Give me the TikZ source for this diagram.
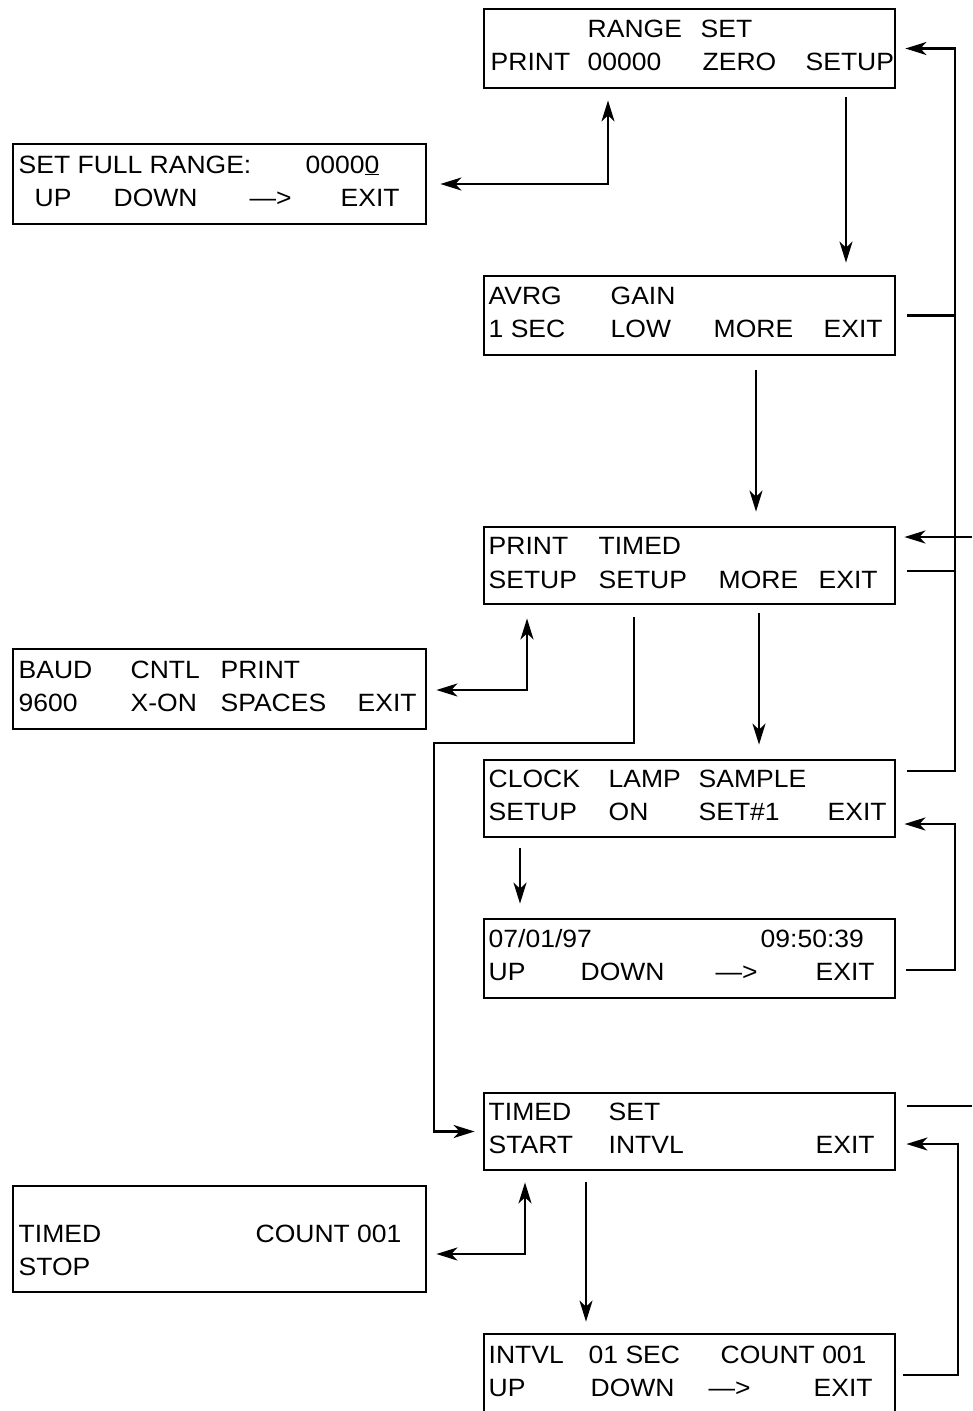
\documentclass[tikz,border=0pt]{standalone}
\usepackage{fontspec}
\setmainfont{Liberation Sans}[FakeStretch=1.06]
\usetikzlibrary{arrows.meta}
\newcommand\lcdw[2]{\rlap{\hspace*{#1pt}#2}}
\tikzset{lcdtip/.tip={Stealth[length=21pt,width=13pt,inset=6pt]}}
\begin{document}
\begin{tikzpicture}[x=1pt,y=-1pt,
  box/.style={draw, line width=2.8pt, inner sep=0pt, minimum width=411pt},
  lbox/.style={box, minimum width=413pt},
  txt/.style={anchor=base west, inner sep=0pt, font=\fontsize{25}{30}\selectfont},
  conn/.style={line width=2.2pt},
  arr/.style={conn, -lcdtip},
  dbl/.style={conn, lcdtip-lcdtip}]
\useasboundingbox (0,0) rectangle (972,1411);
% boxes
\node[box, minimum height=79pt] (A) at (689.5,48.5) {};
\node[lbox, minimum height=80pt] (B) at (219.5,184) {};
\node[box, minimum height=79pt] (C) at (689.5,315.5) {};
\node[box, minimum height=77pt] (D) at (689.5,565.5) {};
\node[lbox, minimum height=80pt] (E) at (219.5,689) {};
\node[box, minimum height=77pt] (F) at (689.5,798.5) {};
\node[box, minimum height=79pt] (G) at (689.5,958.5) {};
\node[box, minimum height=77pt] (H) at (689.5,1131.5) {};
\node[lbox, minimum height=106pt] (I) at (219.5,1239) {};
\node[box, minimum height=105pt] (J) at (689.5,1386.5) {};
% texts
\node[txt] (a1) at (483,37) {\lcdw{104}{RANGE}\lcdw{217}{SET}};
\node[txt] (a2) at (483,70) {\lcdw{7}{PRINT}\lcdw{104}{00000}\lcdw{219}{ZERO}\lcdw{322}{SETUP}};
\node[txt] (b1) at (12,173) {\lcdw{6}{SET FULL RANGE:}\lcdw{293}{0000\underline{0}}};
\node[txt] (b2) at (12,206) {\lcdw{22}{UP}\lcdw{101}{DOWN}\lcdw{237}{—>}\lcdw{328}{EXIT}};
\node[txt] (c1) at (483,304) {\lcdw{5}{AVRG}\lcdw{127}{GAIN}};
\node[txt] (c2) at (483,337) {\lcdw{5}{1 SEC}\lcdw{127}{LOW}\lcdw{230}{MORE}\lcdw{340}{EXIT}};
\node[txt] (d1) at (483,554) {\lcdw{5}{PRINT}\lcdw{115}{TIMED}};
\node[txt] (d2) at (483,588) {\lcdw{5}{SETUP}\lcdw{115}{SETUP}\lcdw{235}{MORE}\lcdw{335}{EXIT}};
\node[txt] (e1) at (12,678) {\lcdw{6}{BAUD}\lcdw{118}{CNTL}\lcdw{208}{PRINT}};
\node[txt] (e2) at (12,711) {\lcdw{6}{9600}\lcdw{118}{X-ON}\lcdw{208}{SPACES}\lcdw{345}{EXIT}};
\node[txt] (f1) at (483,787) {\lcdw{5}{CLOCK}\lcdw{125}{LAMP}\lcdw{215}{SAMPLE}};
\node[txt] (f2) at (483,820) {\lcdw{5}{SETUP}\lcdw{125}{ON}\lcdw{215}{SET\#1}\lcdw{344}{EXIT}};
\node[txt] (g1) at (483,947) {\lcdw{5}{07/01/97}\lcdw{277}{09:50:39}};
\node[txt] (g2) at (483,980) {\lcdw{5}{UP}\lcdw{97}{DOWN}\lcdw{232}{—>}\lcdw{332}{EXIT}};
\node[txt] (h1) at (483,1120) {\lcdw{5}{TIMED}\lcdw{125}{SET}};
\node[txt] (h2) at (483,1153) {\lcdw{5}{START}\lcdw{125}{INTVL}\lcdw{332}{EXIT}};
\node[txt] (i1) at (12,1242) {\lcdw{6}{TIMED}\lcdw{243}{COUNT 001}};
\node[txt] (i2) at (12,1275) {\lcdw{6}{STOP}};
\node[txt] (j1) at (483,1363) {\lcdw{5}{INTVL}\lcdw{105}{01 SEC}\lcdw{237}{COUNT 001}};
\node[txt] (j2) at (483,1396) {\lcdw{5}{UP}\lcdw{107}{DOWN}\lcdw{225}{—>}\lcdw{330}{EXIT}};
% connectors
\draw[dbl, shorten <=13pt, shorten >=11pt] (B.east) -| (608,0 |- A.south);
\draw[arr, shorten <=8pt, shorten >=12pt] (846,0 |- A.south) -- (846,0 |- C.north);
\draw[arr, shorten <=11pt, shorten >=9pt] (C.east) -- (955,0 |- C.east) |- (A.east);
\draw[conn, shorten <=11pt] (F.east |- 0,771) -| (955,0 |- C.east);
\draw[conn, shorten <=11pt] (D.east |- 0,571) -- (955,571);
\draw[arr, shorten >=8pt] (972,537) -- (D.east |- 0,537);
\draw[arr, shorten <=14pt, shorten >=14pt] (756,0 |- C.south) -- (756,0 |- D.north);
\draw[dbl, shorten <=9pt, shorten >=13pt] (E.east |- 0,690) -| (527,0 |- D.south);
\draw[arr, shorten <=12pt, shorten >=8pt] (634,0 |- D.south) |- (434,743) |- (H.west);
\draw[arr, shorten <=8pt, shorten >=14pt] (759,0 |- D.south) -- (759,0 |- F.north);
\draw[arr, shorten <=10pt, shorten >=14pt] (520,0 |- F.south) -- (520,0 |- G.north);
\draw[arr, shorten <=10pt, shorten >=8pt] (G.east |- 0,970) -| (955,824) -- (F.east |- 0,824);
\draw[conn, shorten <=11pt] (H.east |- 0,1106) -- (972,1106);
\draw[arr, shorten <=11pt, shorten >=11pt] (586,0 |- H.south) -- (586,0 |- J.north);
\draw[dbl, shorten <=9pt, shorten >=11pt] (I.east |- 0,1254) -| (525,0 |- H.south);
\draw[arr, shorten <=7pt, shorten >=10pt] (J.east |- 0,1375) -| (958,1144) -- (H.east |- 0,1144);
\end{tikzpicture}
\end{document}
